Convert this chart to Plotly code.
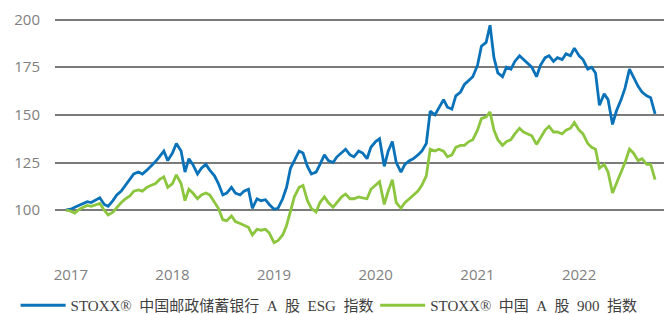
import plotly.graph_objects as go

dates = [
    "2016-12-15",
    "2017-01-01", "2017-01-15", "2017-02-01", "2017-02-15", "2017-03-01", "2017-03-15",
    "2017-04-01", "2017-04-15", "2017-05-01", "2017-05-15", "2017-06-01", "2017-06-15",
    "2017-07-01", "2017-07-15", "2017-08-01", "2017-08-15", "2017-09-01", "2017-09-15",
    "2017-10-01", "2017-10-15", "2017-11-01", "2017-11-15", "2017-12-01", "2017-12-15",
    "2018-01-01", "2018-01-15", "2018-02-01", "2018-02-15", "2018-03-01", "2018-03-15",
    "2018-04-01", "2018-04-15", "2018-05-01", "2018-05-15", "2018-06-01", "2018-06-15",
    "2018-07-01", "2018-07-15", "2018-08-01", "2018-08-15", "2018-09-01", "2018-09-15",
    "2018-10-01", "2018-10-15", "2018-11-01", "2018-11-15", "2018-12-01", "2018-12-15",
    "2019-01-01", "2019-01-15", "2019-02-01", "2019-02-15", "2019-03-01", "2019-03-15",
    "2019-04-01", "2019-04-15", "2019-05-01", "2019-05-15", "2019-06-01", "2019-06-15",
    "2019-07-01", "2019-07-15", "2019-08-01", "2019-08-15", "2019-09-01", "2019-09-15",
    "2019-10-01", "2019-10-15", "2019-11-01", "2019-11-15", "2019-12-01", "2019-12-15",
    "2020-01-01", "2020-01-15", "2020-02-01", "2020-02-15", "2020-03-01", "2020-03-15",
    "2020-04-01", "2020-04-15", "2020-05-01", "2020-05-15", "2020-06-01", "2020-06-15",
    "2020-07-01", "2020-07-15", "2020-08-01", "2020-08-15", "2020-09-01", "2020-09-15",
    "2020-10-01", "2020-10-15", "2020-11-01", "2020-11-15", "2020-12-01", "2020-12-15",
    "2021-01-01", "2021-01-15", "2021-02-01", "2021-02-15", "2021-03-01", "2021-03-15",
    "2021-04-01", "2021-04-15", "2021-05-01", "2021-05-15", "2021-06-01", "2021-06-15",
    "2021-07-01", "2021-07-15", "2021-08-01", "2021-08-15", "2021-09-01", "2021-09-15",
    "2021-10-01", "2021-10-15", "2021-11-01", "2021-11-15", "2021-12-01", "2021-12-15",
    "2022-01-01", "2022-01-15", "2022-02-01", "2022-02-15", "2022-03-01", "2022-03-15",
    "2022-04-01", "2022-04-15", "2022-05-01", "2022-05-15", "2022-06-01", "2022-06-15",
    "2022-07-01", "2022-07-15", "2022-08-01", "2022-08-15", "2022-09-01", "2022-09-15",
    "2022-10-01",
]

esg_index = [
    100.2,
    100.5, 101.5, 102.5, 103.5, 104.5, 104.0,
    105.5, 106.5, 103.0, 102.0, 105.0, 108.0,
    110.0, 113.0, 116.0, 119.0, 120.0, 119.0,
    121.0, 123.0, 125.5, 128.0, 131.0, 126.0,
    130.0, 135.0, 131.0, 120.0, 127.0, 124.0,
    119.0, 122.0, 124.0, 121.0, 118.0, 114.0,
    108.0, 109.0, 112.0, 109.0, 108.0, 110.0,
    111.0, 101.0, 106.0, 105.0, 105.5, 103.0,
    100.5, 101.0, 106.0, 112.0, 122.0, 126.0,
    131.0, 130.0, 123.0, 119.0, 120.0, 124.0,
    129.0, 126.0, 125.0, 128.0, 130.0, 132.0,
    129.0, 128.0, 131.0, 130.0, 127.0, 133.0,
    136.0, 137.5, 123.0, 131.0, 136.0, 125.0,
    120.0, 124.0, 126.0, 127.0, 129.0, 131.0,
    135.0, 152.0, 150.0, 154.0, 158.0, 154.0,
    153.0, 160.0, 162.0, 166.0, 168.0, 170.0,
    176.0, 186.0, 188.0, 197.0, 180.0, 172.0,
    170.0, 175.0, 174.0, 178.0, 181.0, 179.0,
    177.0, 175.0, 170.0, 176.0, 180.0, 181.0,
    178.0, 180.0, 179.0, 182.0, 181.0, 185.0,
    181.0, 179.0, 174.0, 175.0, 172.0, 155.0,
    161.0, 158.0, 145.0, 152.0, 158.0, 164.0,
    174.0, 170.0, 165.0, 162.0, 160.0, 159.0,
    150.5,
]

a900_index = [
    100.0,
    99.5, 98.5, 100.5, 101.5, 102.5, 102.0,
    103.0, 103.5, 100.0, 97.5, 99.0, 101.5,
    104.0, 105.8, 107.5, 110.0, 110.6, 110.0,
    112.0, 113.0, 114.0, 116.0, 117.5, 112.0,
    114.0, 118.5, 114.0, 105.0, 111.0, 109.0,
    106.0, 108.0, 109.0, 108.0, 104.0, 101.0,
    95.0, 94.5, 97.0, 94.0, 93.0, 92.0,
    91.0, 87.0, 90.0, 89.5, 90.0, 88.0,
    83.0, 84.0, 87.0, 92.0, 100.0, 107.0,
    112.0, 113.0, 105.0, 101.0, 99.0, 104.0,
    107.0, 104.0, 101.6, 104.0, 107.0, 108.5,
    106.0, 106.0, 107.0, 106.5, 106.0, 111.0,
    113.0, 115.0, 103.0, 110.0, 116.0, 104.0,
    101.0, 104.0, 106.0, 108.0, 110.0, 113.0,
    118.0, 132.0, 131.0, 132.0, 131.0, 128.0,
    129.0, 133.0, 134.0, 134.0, 136.0, 137.0,
    142.0, 148.0, 149.0, 151.5, 142.0, 137.0,
    134.0, 136.0, 137.0, 140.0, 143.0, 141.0,
    140.0, 139.0, 134.5, 138.0, 142.0, 144.0,
    141.0, 141.0, 140.0, 142.0, 143.0, 146.0,
    142.0, 140.0, 135.0, 133.0, 132.0, 122.0,
    124.0, 120.0, 109.0, 114.0, 120.0, 125.0,
    132.0, 130.0, 126.0, 127.0, 124.0, 124.0,
    116.0,
]

series_names = [
    "STOXX®\u2002中国邮政储蓄银行\u2002A\u2002股\u2002ESG\u2002指数",
    "STOXX®\u2002中国\u2002A\u2002股\u2002900\u2002指数",
]
year_ticks = ["2017-01-01", "2018-01-01", "2019-01-01", "2020-01-01", "2021-01-01", "2022-01-01"]
year_labels = ["2017", "2018", "2019", "2020", "2021", "2022"]
y_ticks = [100, 125, 150, 175, 200]

fig = go.Figure()
fig.add_trace(go.Scatter(x=dates, y=esg_index, mode="lines", name=series_names[0],
                         line=dict(color="#0a72b8", width=2.8), legend="legend"))
fig.add_trace(go.Scatter(x=dates, y=a900_index, mode="lines", name=series_names[1],
                         line=dict(color="#8cc63f", width=2.8), legend="legend2"))

legend_font = dict(family="Liberation Serif, Noto Sans CJK SC", size=15, color="#404040")
fig.update_layout(
    width=664, height=314,
    margin=dict(l=55, r=0, t=10, b=59, autoexpand=False),
    paper_bgcolor="white", plot_bgcolor="white",
    showlegend=True,
    legend=dict(orientation="h", xref="container", yref="container",
                x=0.0235, y=0.027, xanchor="left", yanchor="middle",
                font=legend_font, itemwidth=45),
    legend2=dict(orientation="h", xref="container", yref="container",
                 x=0.565, y=0.027, xanchor="left", yanchor="middle",
                 font=legend_font, itemwidth=45),
    xaxis=dict(type="date", range=["2016-11-05", "2022-11-02"],
               tickvals=year_ticks, ticktext=year_labels,
               showgrid=False, zeroline=False, showline=False, ticks="",
               ticklabelstandoff=9,
               tickfont=dict(family="Open Sans", size=15, color="#7f7f7f")),
    yaxis=dict(range=[76.5, 205], tickvals=y_ticks,
               showgrid=True, gridcolor="#7a7a7a", gridwidth=1.5,
               zeroline=False, showline=False, ticks="",
               ticklabelstandoff=14,
               tickfont=dict(family="Open Sans", size=15, color="#7f7f7f")),
)

fig.write_html("out.html", config={"displayModeBar": False},
               post_script="document.body.style.margin='0';")
